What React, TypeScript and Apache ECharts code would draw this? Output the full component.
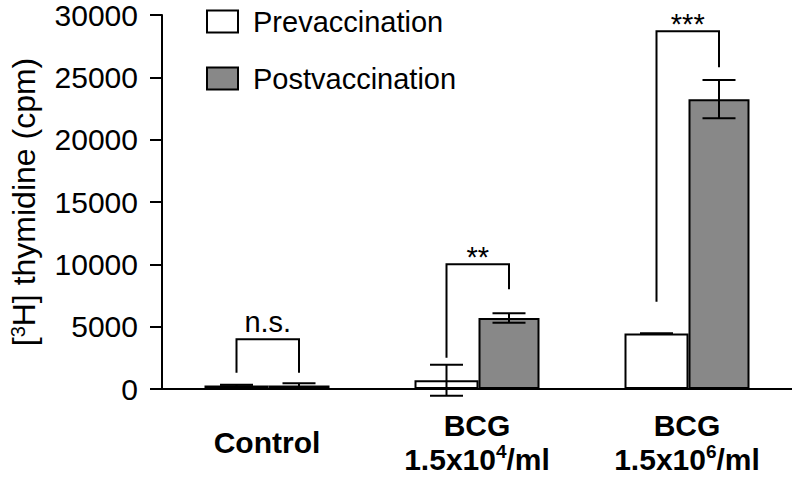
import React, { useEffect, useRef } from "react";
import * as echarts from "echarts";

const categories = ["Control", "BCG\n1.5x10{sup|4}/ml", "BCG\n1.5x10{sup|6}/ml"];
const seriesNames = ["Prevaccination", "Postvaccination"];
const preValues = [280, 700, 4450];
const preErrors = [60, 1250, 0];
const postValues = [290, 5700, 23250];
const postErrors = [170, 380, 1530];
const yMin = 0;
const yMax = 30000;
const yInterval = 5000;
const sigLabels = ["n.s.", "**", "***"];
const sigTop = [4000, 10000, 28700];
const sigLeftEnd = [1300, 2500, 7000];
const sigRightEnd = [1300, 8000, 25800];

const FONT = "'Liberation Sans', Arial, Helvetica, sans-serif";
const PRE_W = 64;
const POST_W = 61;
const PRE_OFF = -(PRE_W + POST_W) / 2 + PRE_W / 2;
const POST_OFF = -(PRE_W + POST_W) / 2 + PRE_W + POST_W / 2;
const CAP = 33;

function errRender(offset: number) {
  return (params: any, api: any) => {
    const c = api.value(0);
    const v = api.value(1);
    const e = api.value(2);
    const x = api.coord([c, 0])[0] + offset;
    const yT = api.coord([c, v + e])[1];
    const yB = api.coord([c, v - e])[1];
    const style = { stroke: "#000", lineWidth: 2 };
    return {
      type: "group",
      children: [
        { type: "line", shape: { x1: x, y1: yT, x2: x, y2: yB }, style },
        { type: "line", shape: { x1: x - CAP / 2, y1: yT, x2: x + CAP / 2, y2: yT }, style },
        { type: "line", shape: { x1: x - CAP / 2, y1: yB, x2: x + CAP / 2, y2: yB }, style },
      ],
    };
  };
}

function sigRender(params: any, api: any) {
  const c = api.value(0);
  const top = api.coord([c, api.value(1)]);
  const l = api.coord([c, api.value(2)]);
  const r = api.coord([c, api.value(3)]);
  const xL = top[0] + PRE_OFF;
  const xR = top[0] + POST_OFF;
  const label = sigLabels[params.dataIndex];
  const star = label.startsWith("*");
  return {
    type: "group",
    children: [
      {
        type: "polyline",
        shape: { points: [[xL, l[1]], [xL, top[1]], [xR, top[1]], [xR, r[1]]] },
        style: { stroke: "#000", lineWidth: 2, fill: null },
      },
      {
        type: "text",
        x: (xL + xR) / 2,
        y: top[1] + (star ? 7 : -3),
        style: {
          text: label,
          fontFamily: FONT,
          fontSize: 29,
          fill: "#000",
          align: "center",
          verticalAlign: "bottom",
        },
      },
    ],
  };
}

export default function App() {
  const ref = useRef<HTMLDivElement>(null);
  useEffect(() => {
    if (!ref.current) return;
    const chart = echarts.init(ref.current, null, { renderer: "svg" });
    chart.setOption({
      animation: false,
      backgroundColor: "#fff",
      textStyle: { fontFamily: FONT },
      grid: { left: 159, top: 12, width: 649, height: 377, containLabel: false },
      legend: {
        orient: "vertical",
        left: 206,
        top: 7,
        padding: 0,
        itemWidth: 31,
        itemHeight: 22,
        itemGap: 28,
        icon: "rect",
        selectedMode: false,
        textStyle: { fontSize: 29, color: "#000", fontFamily: FONT, padding: [0, 0, 0, 10] },
        data: [
          { name: seriesNames[0], itemStyle: { color: "#fff", borderColor: "#000", borderWidth: 2 } },
          { name: seriesNames[1], itemStyle: { color: "#888888", borderColor: "#000", borderWidth: 2 } },
        ],
      },
      xAxis: {
        type: "category",
        data: categories,
        axisLine: { lineStyle: { color: "#000", width: 2 } },
        axisTick: { length: 10, lineStyle: { color: "#000", width: 2 } },
        axisLabel: {
          interval: 0,
          color: "#000",
          fontFamily: FONT,
          fontSize: 30,
          fontWeight: "bold",
          lineHeight: 34,
          verticalAlign: "middle",
          margin: 53,
          rich: {
            sup: { fontSize: 19, fontWeight: "bold", verticalAlign: "top", lineHeight: 34, color: "#000", fontFamily: FONT, padding: [0, 0, 10, 0] },
          },
        },
      },
      yAxis: {
        type: "value",
        min: yMin,
        max: yMax,
        interval: yInterval,
        name: "[{sup|3}H] thymidine (cpm)",
        nameLocation: "middle",
        nameRotate: 90,
        nameGap: 122,
        nameTextStyle: {
          fontFamily: FONT,
          fontSize: 32,
          color: "#000",
          rich: { sup: { fontSize: 20, verticalAlign: "top", color: "#000", fontFamily: FONT, padding: [0, 0, 12, 0] } },
        },
        axisLine: { show: true, lineStyle: { color: "#000", width: 2 } },
        axisTick: { show: true, length: 12, lineStyle: { color: "#000", width: 2 } },
        axisLabel: { color: "#000", fontFamily: FONT, fontSize: 30, margin: 24, formatter: (v: number) => String(v) },
        splitLine: { show: false },
      },
      series: [
        {
          name: seriesNames[0],
          type: "bar",
          data: preValues,
          barWidth: PRE_W,
          barGap: "0%",
          itemStyle: { color: "#fff", borderColor: "#000", borderWidth: 2 },
        },
        {
          name: seriesNames[1],
          type: "bar",
          data: postValues,
          barWidth: POST_W,
          barGap: "0%",
          itemStyle: { color: "#888888", borderColor: "#000", borderWidth: 2 },
        },
        {
          type: "custom",
          renderItem: errRender(PRE_OFF),
          data: preValues.map((v, i) => [i, v, preErrors[i]]),
          encode: { x: 0, y: 1 },
          z: 5,
        },
        {
          type: "custom",
          renderItem: errRender(POST_OFF),
          data: postValues.map((v, i) => [i, v, postErrors[i]]),
          encode: { x: 0, y: 1 },
          z: 5,
        },
        {
          type: "custom",
          renderItem: sigRender,
          data: sigTop.map((t, i) => [i, t, sigLeftEnd[i], sigRightEnd[i]]),
          encode: { x: 0, y: 1 },
          z: 5,
        },
      ],
    });
    return () => chart.dispose();
  }, []);
  return (
    <div
      ref={ref}
      style={{ position: "fixed", left: 0, top: 0, width: 792, height: 478, background: "#fff" }}
    />
  );
}
